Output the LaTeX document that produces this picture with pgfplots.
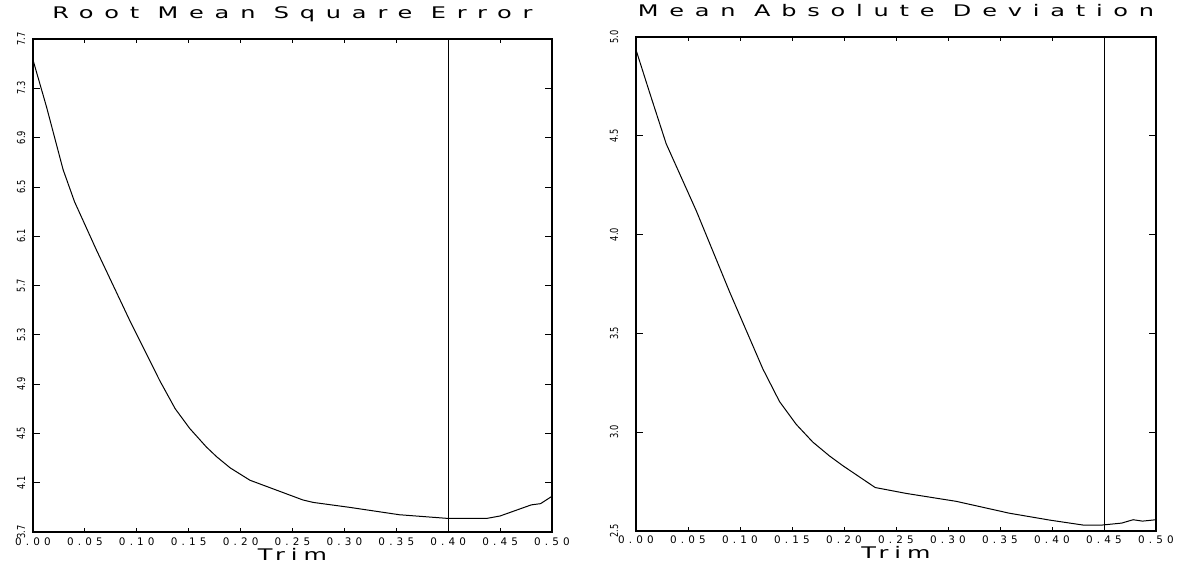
\documentclass[border=0pt]{standalone}
\usepackage{pgfplots}
\pgfplotsset{compat=1.18}
\usepackage{fontspec}
\setmainfont{DejaVu Sans}
\newfontfamily\titlefont[LetterSpace=45]{DejaVu Sans}
\newfontfamily\labelfont[LetterSpace=25]{DejaVu Sans}
\newfontfamily\tickfont[LetterSpace=40]{DejaVu Sans}
\newcommand{\cond}[1]{\scalebox{0.75}[1]{#1}}
\newcommand{\wide}[1]{\scalebox{1.5}[1]{#1}}

% trim vs. root mean square error
\pgfplotstableread{
trim  rmse
0.000 7.53
0.013 7.15
0.029 6.64
0.040 6.38
0.061 5.99
0.093 5.42
0.122 4.93
0.137 4.70
0.151 4.54
0.167 4.39
0.177 4.31
0.190 4.22
0.209 4.12
0.260 3.96
0.270 3.94
0.305 3.90
0.353 3.84
0.400 3.81
0.437 3.81
0.450 3.83
0.480 3.92
0.489 3.93
0.500 3.99
}\rmsetable

% trim vs. mean absolute deviation
\pgfplotstableread{
trim  mad
0.000 4.935
0.013 4.72
0.029 4.46
0.058 4.12
0.090 3.71
0.122 3.32
0.138 3.155
0.154 3.04
0.170 2.95
0.186 2.88
0.199 2.83
0.230 2.72
0.260 2.69
0.308 2.65
0.359 2.59
0.398 2.555
0.430 2.53
0.448 2.53
0.467 2.54
0.478 2.557
0.487 2.55
0.500 2.557
}\madtable

\pgfplotsset{
  trimaxis/.style={
    scale only axis,
    anchor=south west,
    xmin=0, xmax=0.5,
    axis line style={line width=1.4pt},
    tick style={line width=0.4pt, black},
    tick align=inside,
    xtick={0,0.05,...,0.5},
    xticklabels={0.00,0.05,0.10,0.15,0.20,0.25,0.30,0.35,0.40,0.45,0.50},
    xtick style={/pgfplots/major tick length=2pt},
    ytick style={/pgfplots/major tick length=3.5pt},
    xticklabel style={font=\tickfont\fontsize{5.2}{6}\selectfont, anchor=base, yshift=-6.5pt},
    title style={font=\titlefont\fontsize{8}{9}\selectfont, at={(0.5,1)}, anchor=base, yshift=4pt},
    xlabel style={font=\labelfont\fontsize{8}{9}\selectfont, at={(0.5,0)}, anchor=base, yshift=-14pt},
    xlabel={\wide{Trim}},
  },
}

\begin{document}
\begin{tikzpicture}
\useasboundingbox (0,0) rectangle (588.5pt,283.5pt);
\begin{axis}[
    trimaxis,
    at={(16.5pt,17.5pt)},
    width=259.5pt, height=246.5pt,
    ymin=3.7, ymax=7.7,
    ytick={3.7,4.1,4.5,4.9,5.3,5.7,6.1,6.5,6.9,7.3,7.7},
    yticklabels={\cond{3.7},\cond{4.1},\cond{4.5},\cond{4.9},\cond{5.3},\cond{5.7},\cond{6.1},\cond{6.5},\cond{6.9},\cond{7.3},\cond{7.7}},
    yticklabel style={font=\fontsize{5.5}{6}\selectfont, xshift=-6pt, rotate=90, anchor=center},
    title={\wide{Root Mean Square Error}},
]
\addplot[black, line width=0.5pt] table[x=trim, y=rmse] {\rmsetable};
\addplot[black, line width=0.5pt] coordinates {(0.40,3.7) (0.40,7.7)};
\end{axis}
\begin{axis}[
    trimaxis,
    at={(318pt,18pt)},
    width=260pt, height=247pt,
    ymin=2.5, ymax=5.0,
    ytick={2.5,3.0,3.5,4.0,4.5,5.0},
    yticklabels={\cond{2.5},\cond{3.0},\cond{3.5},\cond{4.0},\cond{4.5},\cond{5.0}},
    yticklabel style={font=\fontsize{5.5}{6}\selectfont, xshift=-11pt, rotate=90, anchor=center},
    title={\wide{Mean Absolute Deviation}},
]
\addplot[black, line width=0.5pt] table[x=trim, y=mad] {\madtable};
\addplot[black, line width=0.5pt] coordinates {(0.45,2.5) (0.45,5.0)};
\end{axis}
\end{tikzpicture}
\end{document}
